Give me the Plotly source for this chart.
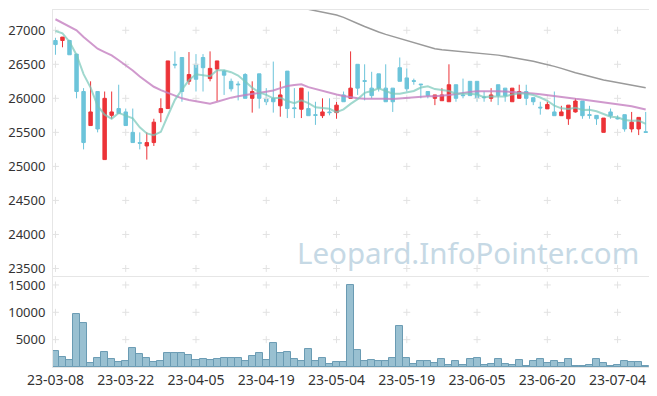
import plotly.graph_objects as go
from plotly.subplots import make_subplots

dates = [
    "23-03-08", "23-03-09", "23-03-10", "23-03-13", "23-03-14", "23-03-15", "23-03-16", "23-03-17",
    "23-03-20", "23-03-21", "23-03-22", "23-03-23", "23-03-24", "23-03-27", "23-03-28", "23-03-29",
    "23-03-30", "23-03-31",
    "23-04-03", "23-04-04", "23-04-05", "23-04-06", "23-04-07", "23-04-10", "23-04-11", "23-04-12",
    "23-04-13", "23-04-14", "23-04-17", "23-04-18", "23-04-19", "23-04-20", "23-04-21", "23-04-24",
    "23-04-25", "23-04-26", "23-04-27", "23-04-28",
    "23-05-02", "23-05-03", "23-05-04", "23-05-08", "23-05-09", "23-05-10", "23-05-11", "23-05-12",
    "23-05-15", "23-05-16", "23-05-17", "23-05-18", "23-05-19", "23-05-22", "23-05-23", "23-05-24",
    "23-05-25", "23-05-26", "23-05-30", "23-05-31",
    "23-06-01", "23-06-02", "23-06-05", "23-06-07", "23-06-08", "23-06-09", "23-06-12", "23-06-13",
    "23-06-14", "23-06-15", "23-06-16", "23-06-19", "23-06-20", "23-06-21", "23-06-22", "23-06-23",
    "23-06-26", "23-06-27", "23-06-28", "23-06-29", "23-06-30",
    "23-07-03", "23-07-04", "23-07-05", "23-07-06", "23-07-07", "23-07-10",
]

open_ = [
    26850, 26850, 26850, 26650, 26100, 25600, 26100, 25100, 25750, 25850,
    25800, 25500, 25350, 25300, 25350, 25790, 25850, 26500, 26600, 26250,
    26500, 26600, 26290, 26430, 26400, 26250, 26210, 26350, 26000, 26360,
    26000, 26000, 25890, 26400, 25860, 25840, 25850, 25760, 25745, 25800,
    25790, 26050, 26000, 26500, 26260, 26150, 26360, 26150, 26150, 26450,
    26300, 26260, 26210, 26100, 26000, 25965, 25950, 26200, 26050, 26250,
    26250, 26020, 26000, 26200, 26150, 25950, 26000, 26100, 26010, 25870,
    25845, 25800, 25745, 25700, 25800, 25960, 25760, 25750, 25500, 25800,
    25710, 25760, 25550, 25550, 25510,
]
high = [
    26890, 26900, 26860, 26650, 26150, 26250, 26100, 26100, 26100, 26200,
    25850, 25850, 25500, 25500, 25700, 26000, 26550, 26690, 26600, 26680,
    26650, 26650, 26690, 26550, 26420, 26290, 26250, 26370, 26250, 26360,
    26150, 26540, 26250, 26400, 26150, 26150, 26100, 25950, 26000, 26000,
    25950, 26100, 26690, 26500, 26500, 26390, 26360, 26500, 26150, 26600,
    26440, 26290, 26210, 26100, 26050, 26150, 26500, 26200, 26290, 26250,
    26250, 26100, 26150, 26200, 26150, 26150, 26200, 26200, 26010, 25950,
    25950, 26100, 25890, 25900, 26000, 25960, 25890, 25750, 25710, 25850,
    25750, 25760, 25800, 25720, 25800,
]
low = [
    26640, 26750, 26640, 26000, 25250, 25600, 25500, 25100, 25700, 25780,
    25600, 25350, 25250, 25100, 25300, 25650, 25850, 26440, 25950, 26200,
    26100, 26100, 26250, 25960, 26050, 26100, 25970, 26000, 25790, 25850,
    25900, 25790, 25730, 25710, 25710, 25710, 25745, 25610, 25710, 25750,
    25700, 25950, 26000, 26050, 25970, 26000, 26100, 25950, 25800, 26250,
    26100, 26200, 26000, 26000, 25900, 25965, 25950, 25950, 26000, 26040,
    25950, 25950, 25950, 25900, 25950, 25950, 26000, 25900, 25900, 25760,
    25845, 25745, 25740, 25610, 25790, 25700, 25700, 25610, 25500, 25700,
    25690, 25510, 25500, 25460, 25500,
]
close = [
    26790, 26900, 26640, 26100, 25350, 25800, 25550, 26000, 25800, 25780,
    25600, 25350, 25340, 25350, 25650, 25850, 26550, 26490, 26100, 26350,
    26280, 26450, 26440, 26550, 26340, 26140, 26200, 26000, 26100, 26000,
    25950, 25950, 26050, 25850, 25850, 26150, 25745, 25750, 25800, 25790,
    25900, 25950, 26150, 26150, 26250, 26040, 26150, 25950, 25950, 26250,
    26140, 26250, 26200, 26040, 26050, 26050, 26200, 26000, 26040, 26040,
    26000, 26010, 26050, 26040, 26040, 26150, 26100, 26000, 25950, 25860,
    25910, 25745, 25800, 25900, 25960, 25745, 25750, 25700, 25710, 25745,
    25700, 25550, 25650, 25720, 25500,
]
volume = [
    2990, 1830, 1340, 9700, 8060, 730, 1650, 2750, 1470, 920,
    1100, 3480, 2380, 1650, 920, 1100, 2560, 2560, 2560, 2200,
    1340, 1470, 1340, 1470, 1650, 1650, 1650, 1100, 2010, 2560,
    1340, 4400, 2560, 2750, 1470, 1100, 3300, 1100, 1650, 550,
    920, 920, 14900, 3110, 1100, 1280, 1100, 1100, 1650, 7510,
    1650, 550, 1100, 1100, 730, 1470, 370, 1100, 370, 1470,
    1650, 370, 550, 1470, 550, 370, 1280, 120, 1100, 1470,
    730, 1100, 730, 1470, 120, 120, 370, 1470, 730, 120,
    370, 1100, 920, 920, 180,
]
ma5 = [
    26990, 26956, 26832, 26637, 26356, 26158, 25888, 25760, 25700, 25786,
    25746, 25706, 25574, 25484, 25458, 25508, 25748, 25978, 26128, 26268,
    26354, 26334, 26324, 26414, 26412, 26384, 26334, 26246, 26156, 26088,
    26050, 26000, 26010, 25960, 25930, 25970, 25929, 25869, 25859, 25847,
    25797, 25838, 25918, 25988, 26080, 26108, 26148, 26108, 26068, 26068,
    26088, 26108, 26158, 26176, 26136, 26118, 26108, 26068, 26068, 26066,
    26056, 26018, 26028, 26028, 26028, 26058, 26076, 26066, 26048, 26012,
    25964, 25893, 25853, 25843, 25863, 25830, 25831, 25811, 25773, 25730,
    25721, 25681, 25671, 25673, 25624,
]
ma20 = [
    27162, 27110, 27055, 27000, 26900, 26820, 26730, 26680, 26630, 26560,
    26490, 26410, 26320, 26250, 26170, 26120, 26080, 26035, 26000, 25975,
    25955, 25935, 25921, 25950, 25985, 26010, 26030, 26045, 26060, 26074,
    26090, 26115, 26150, 26180, 26195, 26206, 26165, 26135, 26110, 26085,
    26055, 26035, 26015, 26000, 25994, 25997, 26000, 25995, 25990, 26000,
    26009, 26015, 26024, 26030, 26030, 26037, 26050, 26065, 26085, 26095,
    26105, 26107, 26107, 26105, 26100, 26095, 26090, 26082, 26072, 26060,
    26045, 26035, 26025, 26005, 25993, 25982, 25970, 25958, 25945, 25930,
    25915, 25900, 25885, 25862, 25835,
]
ma60 = [
    None, None, None, None, None, None, None, None, None, None,
    None, None, None, None, None, None, None, None, None, None,
    None, None, None, None, None, None, None, None, None, None,
    None, None, None, None, 27350, 27330, 27310, 27292, 27272, 27250,
    27225, 27190, 27150, 27100, 27055, 27010, 26975, 26940, 26910, 26880,
    26850, 26818, 26790, 26755, 26730, 26715, 26705, 26700, 26692, 26685,
    26675, 26665, 26650, 26635, 26618, 26600, 26585, 26565, 26545, 26520,
    26500, 26470, 26440, 26405, 26375, 26350, 26320, 26295, 26270, 26250,
    26230, 26210, 26190, 26168, 26155,
]

tick_dates = ["23-03-08", "23-03-22", "23-04-05", "23-04-19", "23-05-04",
              "23-05-19", "23-06-05", "23-06-20", "23-07-04"]
price_ticks = [23500, 24000, 24500, 25000, 25500, 26000, 26500, 27000]
vol_ticks = [5000, 10000, 15000]

RED = "#ec3338"
BLUE = "#6cc4da"
GRID = "#e2e2e2"
AXIS = "#e6e6e6"

fig = make_subplots(rows=2, cols=1, shared_xaxes=True, vertical_spacing=0)

# grid crosses at tick intersections
fig.add_trace(go.Scatter(
    x=[d for d in tick_dates for _ in price_ticks],
    y=[p for _ in tick_dates for p in price_ticks],
    mode="markers", hoverinfo="skip",
    marker=dict(symbol="cross-thin", size=5, line=dict(color=GRID, width=1)),
), row=1, col=1)
fig.add_trace(go.Scatter(
    x=[d for d in tick_dates for _ in vol_ticks],
    y=[v for _ in tick_dates for v in vol_ticks],
    mode="markers", hoverinfo="skip",
    marker=dict(symbol="cross-thin", size=5, line=dict(color=GRID, width=1)),
), row=2, col=1)

fig.add_trace(go.Candlestick(
    x=dates, open=open_, high=high, low=low, close=close,
    increasing=dict(line=dict(color=RED, width=1), fillcolor=RED),
    decreasing=dict(line=dict(color=BLUE, width=1), fillcolor=BLUE),
    whiskerwidth=0,
), row=1, col=1)

fig.add_trace(go.Scatter(x=dates, y=ma60, mode="lines",
                         line=dict(color="#9a9a9a", width=1.5)), row=1, col=1)
fig.add_trace(go.Scatter(x=dates, y=ma20, mode="lines",
                         line=dict(color="rgba(196,128,192,0.8)", width=2)), row=1, col=1)
fig.add_trace(go.Scatter(x=dates, y=ma5, mode="lines",
                         line=dict(color="rgba(120,200,185,0.7)", width=2)), row=1, col=1)

fig.add_trace(go.Bar(
    x=dates, y=volume,
    marker=dict(color="rgba(110,165,190,0.7)", line=dict(color="#6a9bb3", width=1)),
), row=2, col=1)

fig.add_annotation(
    text="Leopard.InfoPointer.com", xref="paper", yref="paper",
    x=0.986, y=0.322, xanchor="right", yanchor="middle", showarrow=False,
    font=dict(family="Noto Sans", size=29.5, color="#c6d9e5"),
)

xcommon = dict(type="category", categoryorder="array", categoryarray=dates,
               range=[-0.35, 84.47], showgrid=False, zeroline=False,
               showline=True, mirror=True, linecolor=AXIS, linewidth=1,
               automargin=False)
fig.update_xaxes(**xcommon)
fig.update_xaxes(rangeslider=dict(visible=False), showticklabels=False, row=1, col=1)
fig.update_xaxes(tickmode="array", tickvals=tick_dates, ticktext=tick_dates,
                 tickangle=0, ticks="", tickfont=dict(size=14), row=2, col=1)

fig.update_yaxes(showgrid=False, zeroline=False, showline=True, mirror=True,
                 linecolor=AXIS, linewidth=1, ticks="outside", ticklen=4,
                 tickcolor="rgba(0,0,0,0)", tickformat="d", automargin=False,
                 tickfont=dict(size=13))
fig.update_yaxes(domain=[0.255, 1], range=[23390, 27298], tickmode="array",
                 tickvals=price_ticks, row=1, col=1)
fig.update_yaxes(domain=[0, 0.252], range=[0, 16450], tickmode="array",
                 tickvals=vol_ticks, row=2, col=1)

# the page body adds an 8px offset, so the figure is 8px smaller
fig.update_layout(
    width=649, height=388,
    margin=dict(l=45, r=8, t=2, b=29),
    paper_bgcolor="white", plot_bgcolor="white",
    showlegend=False, bargap=0,
    font=dict(family="Noto Sans", size=14, color="#333333"),
)

fig.write_html("out.html")
